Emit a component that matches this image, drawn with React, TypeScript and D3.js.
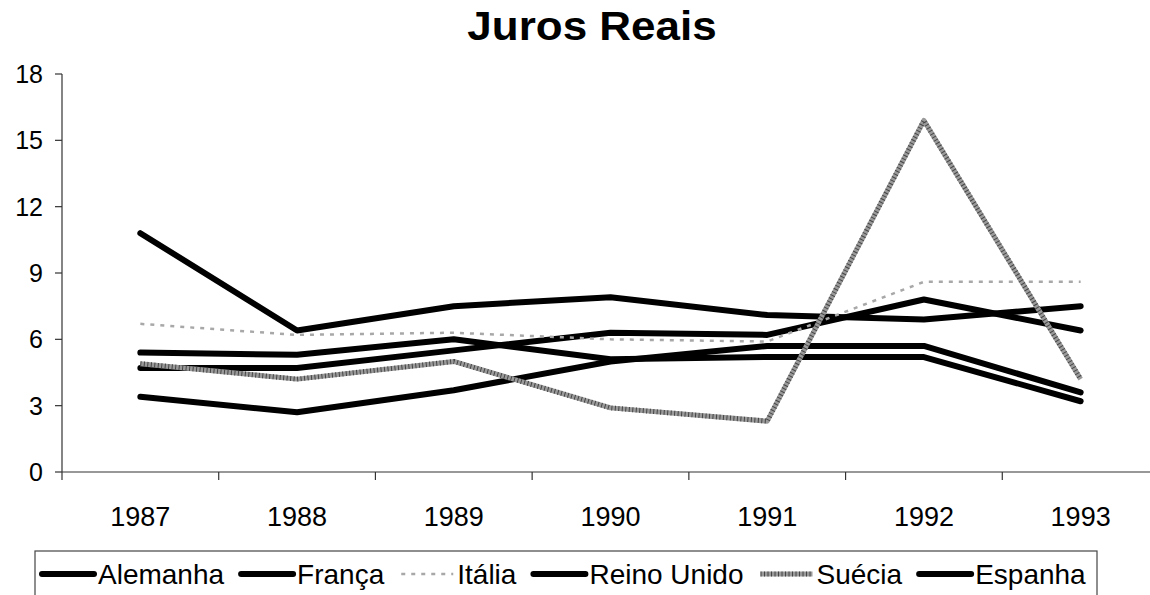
import React, { useEffect, useRef } from 'react';
import * as d3 from 'd3';

const years = ['1987', '1988', '1989', '1990', '1991', '1992', '1993'];
const alemanha = [3.4, 2.7, 3.7, 5.0, 5.7, 5.7, 3.6];
const franca = [4.7, 4.7, 5.5, 6.3, 6.2, 7.8, 6.4];
const italia = [6.7, 6.2, 6.3, 6.0, 5.9, 8.6, 8.6];
const reinoUnido = [5.4, 5.3, 6.0, 5.1, 5.2, 5.2, 3.2];
const suecia = [4.9, 4.2, 5.0, 2.9, 2.3, 15.9, 4.2];
const espanha = [10.8, 6.4, 7.5, 7.9, 7.1, 6.9, 7.5];
const yTicks = [0, 3, 6, 9, 12, 15, 18];
const seriesNames = ['Alemanha', 'França', 'Itália', 'Reino Unido', 'Suécia', 'Espanha'];
const seriesValues = [alemanha, franca, italia, reinoUnido, suecia, espanha];
const seriesStyle = ['black', 'black', 'dotted', 'black', 'gray', 'black'];

const W = 1150;
const H = 595;
const FONT = "'Liberation Sans', Arial, sans-serif";

export default function App() {
  const ref = useRef<SVGSVGElement>(null);

  useEffect(() => {
    const svg = d3.select(ref.current);
    svg.selectAll('*').remove();

    const left = 62;
    const right = 1159;
    const top = 74;
    const bottom = 472;

    const x = d3.scaleBand<string>().domain(years).range([left, right]).padding(0);
    const y = d3.scaleLinear().domain([0, 18]).range([bottom, top]);
    const cx = (d: string) => (x(d) as number) + x.bandwidth() / 2;

    // Title
    svg.append('text')
      .attr('transform', `translate(592,40) scale(1.1,1)`)
      .attr('text-anchor', 'middle')
      .attr('font-family', FONT)
      .attr('font-weight', 'bold')
      .attr('font-size', 40)
      .text('Juros Reais');

    // Axes
    const axisColor = '#333';
    svg.append('line').attr('x1', left).attr('x2', left).attr('y1', top).attr('y2', bottom)
      .attr('stroke', axisColor).attr('stroke-width', 1.2);
    svg.append('line').attr('x1', left).attr('x2', right).attr('y1', bottom).attr('y2', bottom)
      .attr('stroke', axisColor).attr('stroke-width', 1.2);

    const yg = svg.append('g');
    yTicks.forEach((t) => {
      yg.append('line').attr('x1', left - 7).attr('x2', left).attr('y1', y(t)).attr('y2', y(t))
        .attr('stroke', axisColor).attr('stroke-width', 1.2);
      yg.append('text').attr('x', 43).attr('y', y(t) + 9)
        .attr('text-anchor', 'end').attr('font-family', FONT).attr('font-size', 25)
        .text(String(t));
    });

    const xg = svg.append('g');
    const boundaries = years.map((d) => x(d) as number).concat([right]);
    boundaries.forEach((b) => {
      xg.append('line').attr('x1', b).attr('x2', b).attr('y1', bottom).attr('y2', bottom + 8)
        .attr('stroke', axisColor).attr('stroke-width', 1.2);
    });
    years.forEach((d) => {
      xg.append('text').attr('x', cx(d)).attr('y', 526)
        .attr('text-anchor', 'middle').attr('font-family', FONT).attr('font-size', 27)
        .text(d);
    });

    // Lines
    const line = d3.line<number>()
      .x((_, i) => cx(years[i]))
      .y((v) => y(v));

    const drawSeries = (g: any, style: string, d: string) => {
      if (style === 'black') {
        g.append('path').attr('d', d).attr('fill', 'none').attr('stroke', '#000')
          .attr('stroke-width', 6).attr('stroke-linejoin', 'round').attr('stroke-linecap', 'round');
      } else if (style === 'dotted') {
        g.append('path').attr('d', d).attr('fill', 'none').attr('stroke', '#a8a8a8')
          .attr('stroke-width', 2.5).attr('stroke-dasharray', '4,6');
      } else {
        g.append('path').attr('d', d).attr('fill', 'none').attr('stroke', '#9a9a9a')
          .attr('stroke-width', 5).attr('stroke-linejoin', 'round');
        g.append('path').attr('d', d).attr('fill', 'none').attr('stroke', '#444')
          .attr('stroke-width', 5).attr('stroke-dasharray', '1,2.5').attr('stroke-linejoin', 'round');
      }
    };

    const lg = svg.append('g');
    const order = [0, 1, 3, 5, 2, 4];
    order.forEach((i) => {
      drawSeries(lg, seriesStyle[i], line(seriesValues[i]) as string);
    });

    // Legend
    const legY = 574;
    const leg = svg.append('g');
    leg.append('rect').attr('x', 35).attr('y', 551).attr('width', 1062).attr('height', 80)
      .attr('fill', 'none').attr('stroke', '#444').attr('stroke-width', 1.2);
    let lx = 42;
    seriesNames.forEach((name, i) => {
      const d = `M${lx},${legY}L${lx + 52},${legY}`;
      drawSeries(leg, seriesStyle[i], d);
      const t = leg.append('text').attr('x', lx + 56).attr('y', legY + 10)
        .attr('font-family', FONT).attr('font-size', 28).text(name);
      const w = (t.node() as SVGTextElement).getComputedTextLength();
      lx = lx + 56 + w + 17;
    });
  }, []);

  return (
    <svg
      ref={ref}
      width={W}
      height={H}
      style={{ position: 'absolute', left: 0, top: 0, background: '#fff' }}
    />
  );
}
